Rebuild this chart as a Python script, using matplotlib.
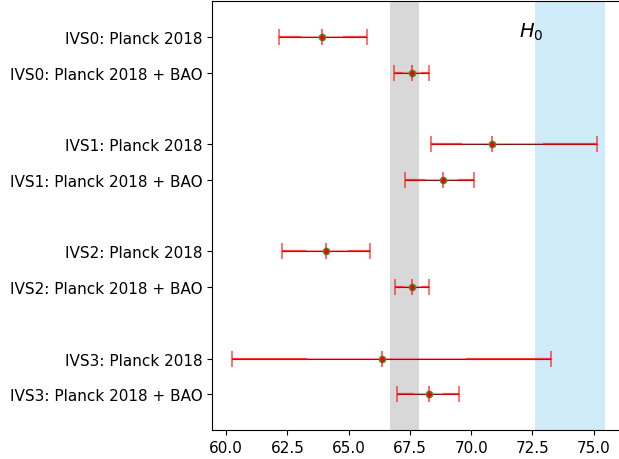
import matplotlib
matplotlib.use("Agg")
import matplotlib.pyplot as plt
import numpy as np

labels = ["IVS0: Planck 2018", "IVS0: Planck 2018 + BAO",
          "IVS1: Planck 2018", "IVS1: Planck 2018 + BAO",
          "IVS2: Planck 2018", "IVS2: Planck 2018 + BAO",
          "IVS3: Planck 2018", "IVS3: Planck 2018 + BAO"]
ypos = [0, 1, 3, 4, 6, 7, 9, 10]

h0_mid = [63.93, 67.57, 70.85, 68.84, 64.09, 67.60, 66.35, 68.29]
lo95 = [62.14, 66.84, 68.36, 67.30, 62.28, 66.91, 60.22, 66.98]
hi95 = [65.73, 68.27, 75.12, 70.12, 65.86, 68.29, 73.28, 69.50]
lo68 = [63.07, 67.20, 69.62, 68.11, 63.24, 67.25, 63.31, 67.66]
hi68 = [64.75, 67.95, 72.94, 69.47, 64.96, 67.95, 69.80, 68.86]

# Planck 2018 and SH0ES bands
planck_h0, planck_sig = 67.27, 0.60
shoes_h0, shoes_sig = 74.03, 1.42

fig = plt.figure(figsize=(6.19, 4.6), dpi=100)
ax = fig.add_axes([0.3425, 0.063, 0.664, 0.932])

ax.axvspan(planck_h0 - planck_sig, planck_h0 + planck_sig, color='gray', alpha=0.3, lw=0)
ax.axvspan(shoes_h0 - shoes_sig, shoes_h0 + shoes_sig, color='skyblue', alpha=0.4, lw=0)

ax.hlines(ypos, lo95, hi95, color='k', lw=0.6, zorder=2)
ax.hlines(ypos, lo95, lo68, color='red', lw=1.6, alpha=0.75, zorder=3)
ax.hlines(ypos, hi68, hi95, color='red', lw=1.6, alpha=0.75, zorder=3)
ax.hlines(ypos, lo68, hi68, color='red', lw=1.6, alpha=0.4, zorder=3)
ax.plot(lo95, ypos, '|', color='red', ms=11, mew=1.4, alpha=0.55, zorder=4)
ax.plot(hi95, ypos, '|', color='red', ms=11, mew=1.4, alpha=0.55, zorder=4)
ax.plot(h0_mid, ypos, 'o', mfc='red', mec='#2ca02c', ms=4.5, mew=1.0, zorder=5)
ax.plot(h0_mid, ypos, '|', color='red', ms=11, mew=1.2, alpha=0.7, zorder=6)

ax.text(71.97, -0.17, "$H_0$", fontsize=14, va='center', ha='left')

ax.set_yticks(ypos)
ax.set_yticklabels(labels, fontsize=11)
ax.set_ylim(11, -1)
ax.set_xlim(59.42, 76.2)
ax.set_xticks([60.0, 62.5, 65.0, 67.5, 70.0, 72.5, 75.0])
ax.tick_params(labelsize=11)

plt.savefig("out.png", dpi=100)
